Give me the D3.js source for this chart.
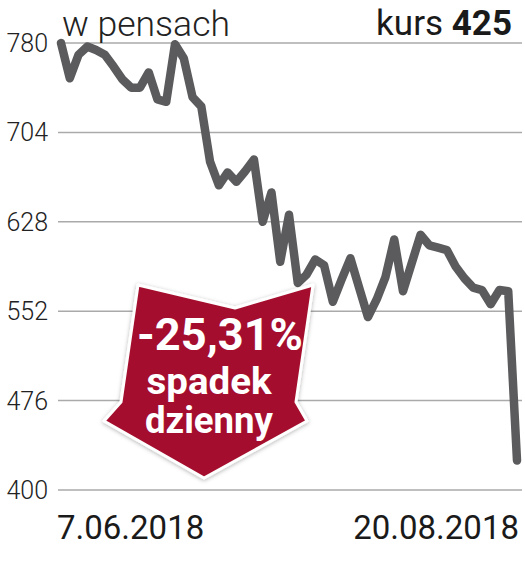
<!DOCTYPE html>
<html><head><meta charset="utf-8">
<script src="https://d3js.org/d3.v7.min.js"></script>
<style>
  body { margin: 0; background: #fff; }
  text { font-family: Roboto, "DejaVu Sans", sans-serif; }
</style>
</head>
<body>
<svg id="chart" width="525" height="565"></svg>
<script>
// daily closing price, pence (7.06.2018 - 20.08.2018)
const prices = [780, 750, 770, 777, 774, 770, 760, 749, 742, 742,
                755, 732, 730, 779, 767, 734, 726, 679, 659, 670,
                662, 671, 681, 628, 653, 594, 634, 576, 583, 596,
                591, 560, 579, 597, 572, 547, 562, 581, 613, 569,
                593, 617, 608, 606, 604, 590, 580, 572, 570, 558,
                570, 569, 425];
const yTicks = [400, 476, 552, 628, 704, 780];
const xLabels = ["7.06.2018", "20.08.2018"];
const unitLabel = "w pensach";
const lastLabel = ["kurs ", "425"];
const badgeLines = ["-25,31%", "spadek", "dzienny"];

const svg = d3.select("#chart");

const x = d3.scaleLinear().domain([0, prices.length - 1]).range([61, 517]);
const y = d3.scaleLinear().domain([400, 780]).range([490, 43]);

// grid + tick labels
svg.selectAll("line.grid").data(yTicks).join("line")
   .attr("class", "grid")
   .attr("x1", 58).attr("x2", 522)
   .attr("y1", d => y(d)).attr("y2", d => y(d))
   .attr("stroke", "#aaa").attr("stroke-width", 1.5);

svg.selectAll("text.ytick").data(yTicks).join("text")
   .attr("class", "ytick")
   .attr("x", 48).attr("y", d => y(d) + 9)
   .attr("text-anchor", "end")
   .attr("font-size", 25).attr("font-weight", 300)
   .attr("fill", "#222")
   .text(d => d);

// header
svg.append("text").attr("x", 62).attr("y", 36)
   .attr("font-size", 35).attr("font-weight", 300).attr("fill", "#222")
   .attr("textLength", 168).attr("lengthAdjust", "spacingAndGlyphs")
   .text(unitLabel);

const kurs = svg.append("text").attr("x", 512).attr("y", 35)
   .attr("text-anchor", "end").attr("font-size", 35).attr("fill", "#1a1a1a");
kurs.append("tspan").attr("font-weight", 400).text(lastLabel[0]);
kurs.append("tspan").attr("font-weight", 700).text(lastLabel[1]);

// price line
const line = d3.line().x((d, i) => x(i)).y(d => y(d));
svg.append("path").datum(prices)
   .attr("d", line)
   .attr("fill", "none")
   .attr("stroke", "#5b5b5d")
   .attr("stroke-width", 8.5)
   .attr("stroke-linejoin", "round")
   .attr("stroke-linecap", "round");

// x labels
svg.append("text").attr("x", 57).attr("y", 539)
   .attr("font-size", 33).attr("fill", "#1a1a1a")
   .text(xLabels[0]);
svg.append("text").attr("x", 519).attr("y", 539)
   .attr("text-anchor", "end")
   .attr("font-size", 33).attr("fill", "#1a1a1a")
   .text(xLabels[1]);

// red arrow badge
const defs = svg.append("defs");
const f = defs.append("filter").attr("id", "shadow")
   .attr("x", "-20%").attr("y", "-20%").attr("width", "140%").attr("height", "140%");
f.append("feDropShadow").attr("dx", 0).attr("dy", 1).attr("stdDeviation", 2)
   .attr("flood-color", "#000").attr("flood-opacity", 0.3);

const arrow = [[138, 285], [235, 308], [313, 285], [296, 402], [307, 421],
               [204, 478], [104, 421], [121, 402]];
svg.append("path")
   .attr("d", d3.line()(arrow) + "Z")
   .attr("fill", "#a5102d")
   .attr("stroke", "#fff").attr("stroke-width", 3)
   .attr("stroke-linejoin", "round")
   .attr("filter", "url(#shadow)");

// one multi-line label inside the arrow
const badgeText = [
  {t: badgeLines[0], cx: 220, y: 350, size: 44, len: 166},
  {t: badgeLines[1], cx: 209, y: 394, size: 37, len: 125},
  {t: badgeLines[2], cx: 209, y: 433, size: 37, len: 128}
];
svg.append("text")
   .attr("text-anchor", "middle")
   .attr("font-weight", 700)
   .attr("fill", "#fff")
   .selectAll("tspan").data(badgeText).join("tspan")
   .attr("x", d => d.cx).attr("y", d => d.y)
   .attr("font-size", d => d.size)
   .attr("textLength", d => d.len).attr("lengthAdjust", "spacingAndGlyphs")
   .text(d => d.t);
</script>
</body></html>
